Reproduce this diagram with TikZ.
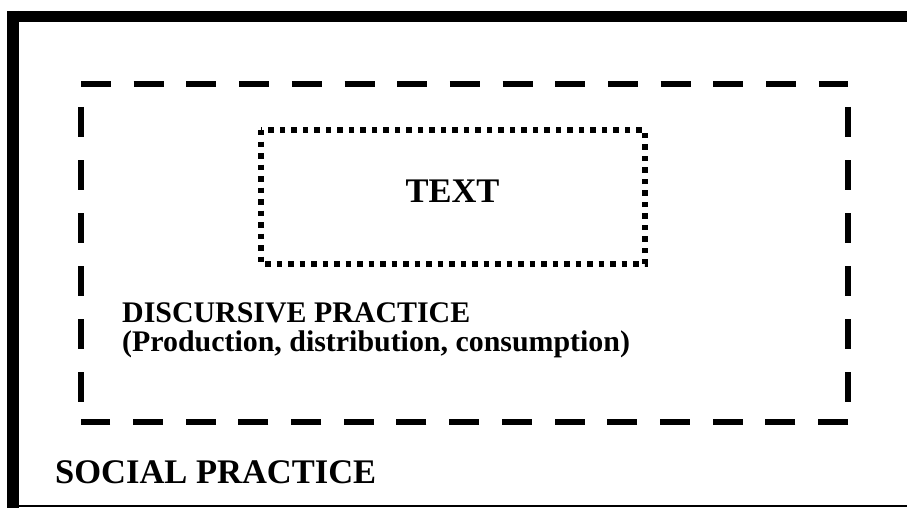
\documentclass[tikz,border=0pt]{standalone}
\usepackage{fontspec}
\setmainfont{Liberation Serif}
\usepackage{tikz}
\usetikzlibrary{positioning}

\tikzset{
  frameline/.style={line width=#1},
  practiceline/.style={line width=6.5pt, dash pattern=on 30pt off 22.7pt},
  sideline/.style={line width=6.5pt, dash pattern=on 30pt off 23pt, dash phase=30pt},
  textline/.style={line width=5.5pt, dash pattern=on 5.5pt off 6pt},
  bigtext/.style={inner sep=0pt, font=\bfseries\fontsize{34.5}{40}\selectfont},
  smalltext/.style={inner sep=0pt, font=\bfseries\fontsize{29.9}{34}\selectfont, anchor=base west}
}

\begin{document}
\begin{tikzpicture}[x=1pt, y=-1pt]
  \useasboundingbox (0,0) rectangle (907,508);
  % --- Social practice: outer frame ---
  \draw[frameline=12pt] (13,11) -- (13,508);
  \draw[frameline=11pt] (7,16.5) -- (907,16.5);
  \draw[frameline=2pt] (13,506) -- (907,506);
  \node[bigtext, anchor=base west] (social) at (55,483) {SOCIAL PRACTICE};
  % --- Discursive practice: dashed box ---
  \draw[practiceline] (81,84) -- (848,84);
  \draw[practiceline] (848,422) -- (81,422);
  \draw[sideline] (81,84) -- (81,422);
  \draw[sideline] (848,84) -- (848,422);
  \node[smalltext] (discursive) at (122,322) {DISCURSIVE PRACTICE};
  \node[smalltext] (production) at (122,351) {(Production, distribution, consumption)};
  % --- Text: dotted box ---
  \draw[textline] (261,130) rectangle (645,264);
  \node[bigtext, anchor=base] (text) at (452.5,202) {TEXT};
\end{tikzpicture}
\end{document}
